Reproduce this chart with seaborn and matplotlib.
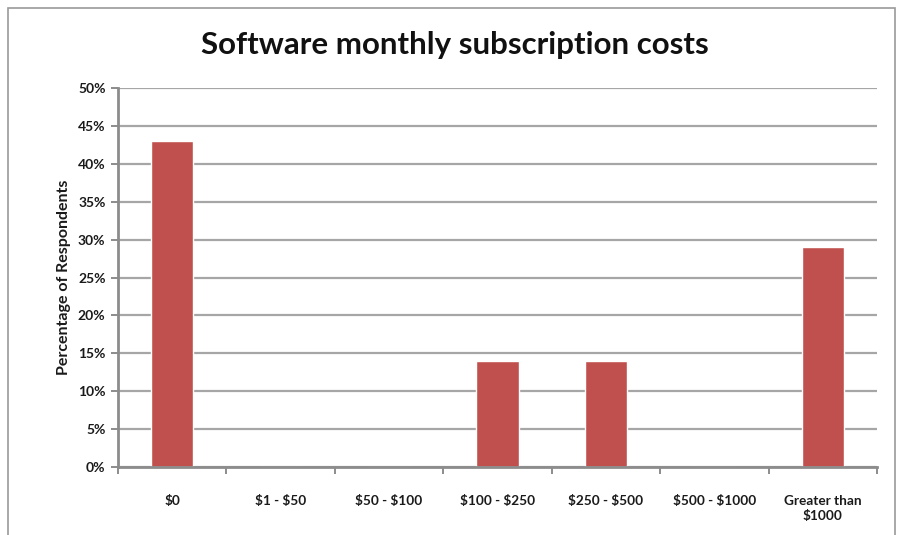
import matplotlib.pyplot as plt
import matplotlib.ticker as mticker
from matplotlib.patches import Rectangle
import seaborn as sns
import pandas as pd
import numpy as np

categories = ["$0", "$1 - $50", "$50 - $100", "$100 - $250", "$250 - $500",
              "$500 - $1000", "Greater than\n$1000"]
percentages = [43, 0, 0, 14, 14, 0, 29]
y_ticks = list(range(0, 51, 5))

df = pd.DataFrame({"cost": categories, "pct": percentages})

sns.set_theme(style="white")
plt.rcParams["font.family"] = ["Lato", "DejaVu Sans"]

fig = plt.figure(figsize=(8.97, 5.35), dpi=100)
ax = fig.add_axes([0.1315, 0.127, 0.8462, 0.7085])

sns.barplot(data=df, x="cost", y="pct", color="#C0504D", saturation=1,
            width=0.39, ax=ax)

grid_c = "#A6A6A6"
ax.set_ylim(0, 50)
ax.set_xlim(-0.5, len(categories) - 0.5)
ax.set_yticks(y_ticks)
ax.yaxis.set_major_formatter(mticker.FuncFormatter(lambda v, _: f"{v:.0f}%"))
ax.yaxis.grid(True, color=grid_c, lw=1.6)
ax.set_axisbelow(True)

# escape dollar signs so they are not read as mathtext
ax.set_xticks(range(len(categories)))
ax.set_xticklabels([c.replace("$", r"\$") for c in categories], fontsize=9.8,
                   fontweight="bold", color="#1a1a1a", linespacing=1.35)
ax.set_xticks(np.arange(-0.5, len(categories)), minor=True)
ax.tick_params(axis="x", which="major", length=0, pad=20)
ax.tick_params(axis="x", which="minor", length=5, width=1.4, color="#8c8c8c",
               direction="out", bottom=True)
ax.tick_params(axis="y", length=5, width=1.4, color="#8c8c8c", left=True,
               labelsize=10, pad=4)
for lbl in ax.get_yticklabels():
    lbl.set_fontweight("bold")
    lbl.set_color("#1a1a1a")

for side in ["top", "right"]:
    ax.spines[side].set_visible(False)
for side in ["left", "bottom"]:
    ax.spines[side].set_color("#8c8c8c")
    ax.spines[side].set_linewidth(2)

ax.set_xlabel("")
ax.set_ylabel("Percentage of Respondents", fontsize=11.5, fontweight="bold",
              color="#1a1a1a", labelpad=5)

fig.text(0.507, 0.915, "Software monthly subscription costs", ha="center",
         va="center", fontsize=22.5, fontweight="bold", color="#111111")

fig.patches.append(Rectangle((8 / 897, -0.02), 887 / 897, 1.005, transform=fig.transFigure,
                             fill=False, edgecolor="#9a9a9a", lw=1.2))

fig.savefig("out.png", dpi=100)
